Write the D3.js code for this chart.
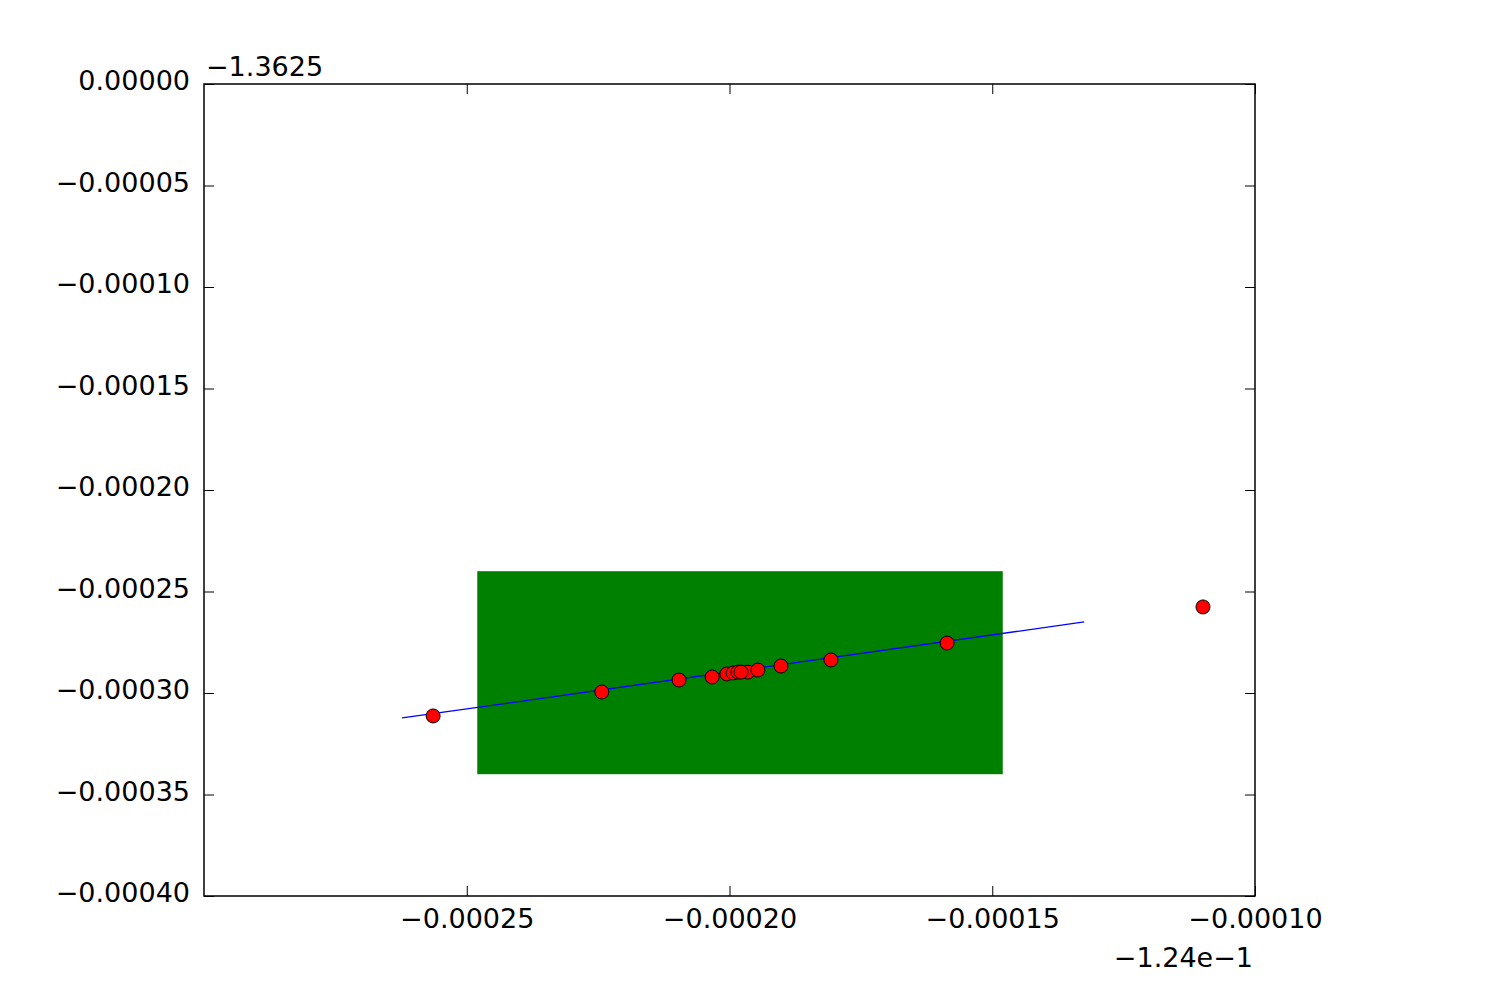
<!DOCTYPE html>
<html>
<head>
<meta charset="utf-8">
<script src="https://cdn.jsdelivr.net/npm/d3@7"></script>
<style>
  body { margin: 0; background: #fff; }
  text { font-family: "DejaVu Sans", sans-serif; fill: #000; }
</style>
</head>
<body>
<svg width="1504" height="1002"></svg>
<script>
 // values are shown relative to the offsets (x: -1.24e-1, y: -1.3625)
 const xOffsetLabel = "\u22121.24e\u22121";
 const yOffsetLabel = "\u22121.3625";

 const xTicks = [-0.00025, -0.0002, -0.00015, -0.0001];
 const yTicks = [0, -0.00005, -0.0001, -0.00015, -0.0002, -0.00025, -0.0003, -0.00035, -0.0004];

 const pointsX = [-0.0002564, -0.0002243, -0.0002096, -0.0002033, -0.0002005, -0.0001993, -0.0001984,
                  -0.0001965, -0.0001946, -0.0001902, -0.0001807, -0.0001586, -0.0001099, -0.0001978];
 const pointsY = [-0.0003113, -0.0002995, -0.0002936, -0.0002921, -0.0002906, -0.0002901, -0.0002897,
                  -0.0002897, -0.0002887, -0.0002867, -0.0002837, -0.0002754, -0.0002576, -0.0002897];

 const fitX = [-0.0002623, -0.0001325];
 const fitY = [-0.0003123, -0.000265];

 const boxX = [-0.000248, -0.000148];
 const boxY = [-0.00034, -0.00024];

 const svg = d3.select("svg");
 const mLeft = 204, mRight = 1255, mTop = 84, mBottom = 896;

 const x = d3.scaleLinear().domain([-0.0003, -0.0001]).range([mLeft, mRight]);
 const y = d3.scaleLinear().domain([-0.0004, 0]).range([mBottom, mTop]);

 const fmt = d => d3.format(".5f")(d).replace("-", "\u2212");

 // green box
 svg.append("rect")
   .attr("x", x(boxX[0]))
   .attr("y", y(boxY[1]))
   .attr("width", x(boxX[1]) - x(boxX[0]))
   .attr("height", y(boxY[0]) - y(boxY[1]))
   .attr("fill", "#008000");

 // fit line
 svg.append("line")
   .attr("x1", x(fitX[0])).attr("y1", y(fitY[0]))
   .attr("x2", x(fitX[1])).attr("y2", y(fitY[1]))
   .attr("stroke", "#0000ff")
   .attr("stroke-width", 1.3);

 // points
 svg.append("g")
   .selectAll("circle")
   .data(pointsX.map((d, i) => [d, pointsY[i]]))
   .join("circle")
     .attr("cx", d => x(d[0]))
     .attr("cy", d => y(d[1]))
     .attr("r", 7)
     .attr("fill", "#ff0000")
     .attr("stroke", "#000")
     .attr("stroke-width", 1);

 // axes, ticks pointing inward on all four sides
 const tickLen = 10;
 const bottomAxis = svg.append("g")
   .attr("transform", `translate(0,${mBottom})`)
   .call(d3.axisBottom(x).tickValues(xTicks).tickSizeInner(-tickLen).tickSizeOuter(0).tickPadding(13).tickFormat(fmt));
 const topAxis = svg.append("g")
   .attr("transform", `translate(0,${mTop})`)
   .call(d3.axisTop(x).tickValues(xTicks).tickSizeInner(-tickLen).tickSizeOuter(0).tickFormat(""));
 const leftAxis = svg.append("g")
   .attr("transform", `translate(${mLeft},0)`)
   .call(d3.axisLeft(y).tickValues(yTicks).tickSizeInner(-tickLen).tickSizeOuter(0).tickPadding(14).tickFormat(fmt));
 const rightAxis = svg.append("g")
   .attr("transform", `translate(${mRight},0)`)
   .call(d3.axisRight(y).tickValues(yTicks).tickSizeInner(-tickLen).tickSizeOuter(0).tickFormat(""));

 for (const a of [bottomAxis, topAxis, leftAxis, rightAxis]) {
   a.select(".domain").remove();
   a.selectAll(".tick line").attr("stroke", "#000").attr("stroke-width", 1);
   a.selectAll("text").style("font-family", "DejaVu Sans").style("font-size", "27px").attr("fill", "#000");
 }
 leftAxis.selectAll("text").attr("dy", "0.22em");

 // frame
 svg.append("rect")
   .attr("x", mLeft).attr("y", mTop)
   .attr("width", mRight - mLeft).attr("height", mBottom - mTop)
   .attr("fill", "none")
   .attr("stroke", "#000")
   .attr("stroke-width", 1.5);

 // offset texts
 svg.append("text")
   .attr("x", mLeft + 2).attr("y", mTop - 8)
   .style("font-size", "27px")
   .text(yOffsetLabel);
 svg.append("text")
   .attr("x", mRight - 2).attr("y", 967)
   .attr("text-anchor", "end")
   .style("font-size", "27px")
   .text(xOffsetLabel);
</script>
</body>
</html>
